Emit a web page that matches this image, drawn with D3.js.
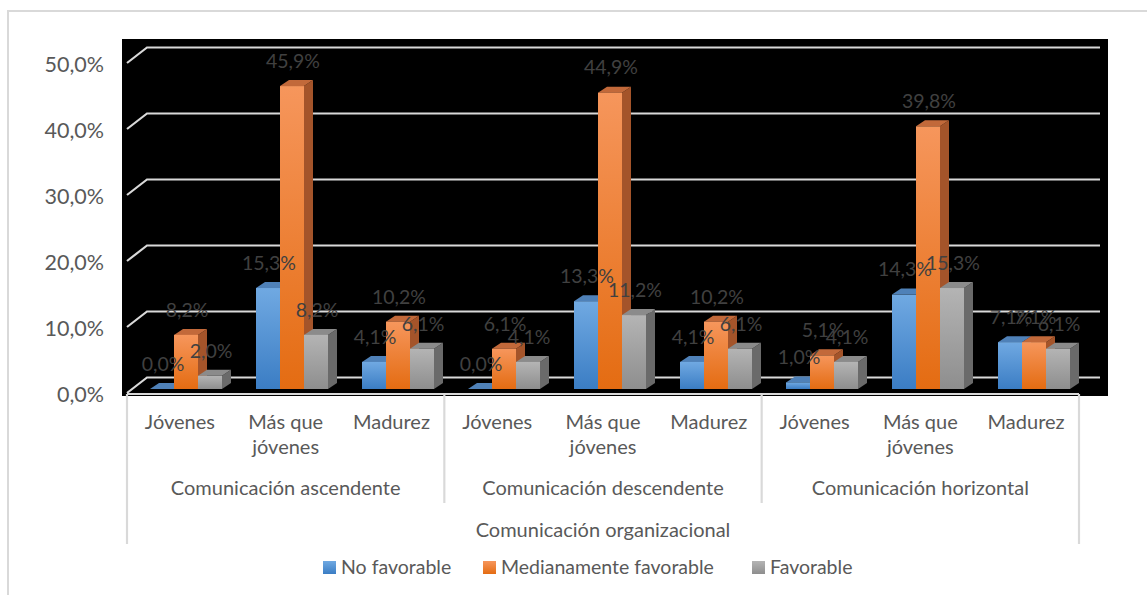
<!DOCTYPE html>
<html>
<head>
<meta charset="utf-8">
<script src="https://cdn.jsdelivr.net/npm/d3@7/dist/d3.min.js"></script>
<style>
  html, body { margin: 0; padding: 0; background: #ffffff; }
  svg { display: block; }
  text { font-family: Lato, "Open Sans", "Liberation Sans", sans-serif; }
</style>
</head>
<body>
<svg id="chart" width="1147" height="595"></svg>
<script>
// Age groups inside each communication type
const ageGroups = ["Jóvenes", "Más que\njóvenes", "Madurez"];
const commTypes = ["Comunicación ascendente", "Comunicación descendente", "Comunicación horizontal"];
const topTitle = "Comunicación organizacional";
const seriesNames = ["No favorable", "Medianamente favorable", "Favorable"];

// Percentages per series, one entry per (type, age group) in order
const noFavorable = [0.0, 15.3, 4.1, 0.0, 13.3, 4.1, 1.0, 14.3, 7.1];
const medianamenteFavorable = [8.2, 45.9, 10.2, 6.1, 44.9, 10.2, 5.1, 39.8, 7.1];
const favorable = [2.0, 8.2, 6.1, 4.1, 11.2, 6.1, 4.1, 15.3, 6.1];

const yTicks = [0, 10, 20, 30, 40, 50];

const series = [noFavorable, medianamenteFavorable, favorable];
const categories = [];
commTypes.forEach(t => ageGroups.forEach(a => categories.push(t + "|" + a)));

const svg = d3.select("#chart");
const fmt = v => d3.format(".1f")(v).replace(".", ",") + "%";

// Outer frame (top and left edges)
svg.append("path")
  .attr("d", "M8,595 V11 H1147")
  .attr("fill", "none").attr("stroke", "#d9d9d9").attr("stroke-width", 2);

// Plot background
svg.append("rect")
  .attr("x", 122).attr("y", 39).attr("width", 986).attr("height", 357)
  .attr("fill", "#000000");

// 3D geometry
const wallDx = 20, wallDy = -15.5;
const barDx = 9, barDy = -6;

const yFront = d3.scaleLinear().domain([0, 50]).range([393, 63]);
const yBar = d3.scaleLinear().domain([0, 50]).range([389, 59]);

const xCat = d3.scaleBand().domain(categories).range([127, 1079]);
const xBarBand = d3.scaleBand().domain(categories).range([133, 1087]);
const xSeries = d3.scaleBand().domain(d3.range(3)).range([0, 72]);

// Gridlines with the slanted wall edge
const grid = svg.append("g");
yTicks.forEach(v => {
  const yf = yFront(v), yb = yf + wallDy;
  grid.append("path")
    .attr("d", `M127,${yf} L${127 + wallDx},${yb} H1100`)
    .attr("fill", "none").attr("stroke", "#d9d9d9").attr("stroke-width", 2.2);
});

// Y axis labels
svg.append("g").selectAll("text").data(yTicks).join("text")
  .attr("x", 104).attr("y", d => yFront(d) + 1)
  .attr("dy", "0.35em").attr("text-anchor", "end")
  .attr("font-size", 21.5).attr("fill", "#595959")
  .text(d => d3.format(".1f")(d).replace(".", ",") + "%");

// Gradients for bar faces
const defs = svg.append("defs");
const palettes = [
  { front: ["#70a9e2", "#3b7dc4"], side: "#2e5f95", top: "#4f81b8" },
  { front: ["#f6965c", "#e46c12"], side: "#a4542a", top: "#c2693a" },
  { front: ["#b4b4b4", "#8e8e8e"], side: "#6a6a6a", top: "#8b8b8b" }
];
palettes.forEach((p, i) => {
  const g = defs.append("linearGradient").attr("id", "grad" + i)
    .attr("x1", 0).attr("y1", 0).attr("x2", 0).attr("y2", 1);
  g.append("stop").attr("offset", "0%").attr("stop-color", p.front[0]);
  g.append("stop").attr("offset", "100%").attr("stop-color", p.front[1]);
});

// Bars
const bars = svg.append("g");
const labels = [];
categories.forEach((c, ci) => {
  series.forEach((s, si) => {
    const v = s[ci];
    const x0 = xBarBand(c) + (xBarBand.bandwidth() - 72) / 2 + xSeries(si);
    const w = xSeries.bandwidth();
    const yt = yBar(v), yb = yBar(0);
    const p = palettes[si];
    const g = bars.append("g");
    g.append("polygon")
      .attr("points", [[x0 + w, yb], [x0 + w + barDx, yb + barDy], [x0 + w + barDx, yt + barDy], [x0 + w, yt]].join(" "))
      .attr("fill", p.side);
    g.append("polygon")
      .attr("points", [[x0, yt], [x0 + barDx, yt + barDy], [x0 + w + barDx, yt + barDy], [x0 + w, yt]].join(" "))
      .attr("fill", p.top);
    if (yb - yt > 0) {
      g.append("rect").attr("x", x0).attr("y", yt).attr("width", w).attr("height", yb - yt)
        .attr("fill", `url(#grad${si})`);
    }
    labels.push({ x: x0 + w / 2 + 1, y: yt - 25, v });
  });
});

// Data labels
svg.append("g").selectAll("text").data(labels).join("text")
  .attr("x", d => d.x).attr("y", d => d.y)
  .attr("dy", "0.35em").attr("text-anchor", "middle")
  .attr("font-size", 19.5).attr("fill", "#404040")
  .text(d => fmt(d.v));

// Category axis table
const axisG = svg.append("g");
axisG.append("rect").attr("x", 127).attr("y", 396).attr("width", 952).attr("height", 150).attr("fill", "#ffffff");
const line = (d) => axisG.append("path").attr("d", d).attr("fill", "none")
  .attr("stroke", "#d9d9d9").attr("stroke-width", 2.2);
line("M127,394 H1079");
line("M127,394 V544");
line("M1079,394 V544");
const groupW = 3 * xCat.bandwidth();
[1, 2].forEach(k => {
  const x = xCat(categories[k * 3]);
  line(`M${x},394 V503`);
});

// Age group labels
categories.forEach(c => {
  const a = c.split("|")[1].split("\n");
  const cx = xCat(c) + xCat.bandwidth() / 2;
  a.forEach((t, li) => {
    axisG.append("text").attr("x", cx).attr("y", 422 + li * 25)
      .attr("dy", "0.35em").attr("text-anchor", "middle")
      .attr("font-size", 20).attr("fill", "#595959").text(t);
  });
});

// Communication type labels
commTypes.forEach((t, k) => {
  const cx = xCat(categories[k * 3]) + groupW / 2;
  axisG.append("text").attr("x", cx).attr("y", 488)
    .attr("dy", "0.35em").attr("text-anchor", "middle")
    .attr("font-size", 20).attr("fill", "#595959").text(t);
});

axisG.append("text").attr("x", (127 + 1079) / 2).attr("y", 530)
  .attr("dy", "0.35em").attr("text-anchor", "middle")
  .attr("font-size", 20).attr("fill", "#595959").text(topTitle);

// Legend
const legendX = [323, 483, 752];
const legend = svg.append("g");
seriesNames.forEach((n, i) => {
  legend.append("rect").attr("x", legendX[i]).attr("y", 561).attr("width", 13).attr("height", 13)
    .attr("fill", `url(#grad${i})`);
  legend.append("text").attr("x", legendX[i] + 18).attr("y", 567.5)
    .attr("dy", "0.35em").attr("font-size", 19.5).attr("fill", "#595959").text(n);
});
</script>
</body>
</html>
